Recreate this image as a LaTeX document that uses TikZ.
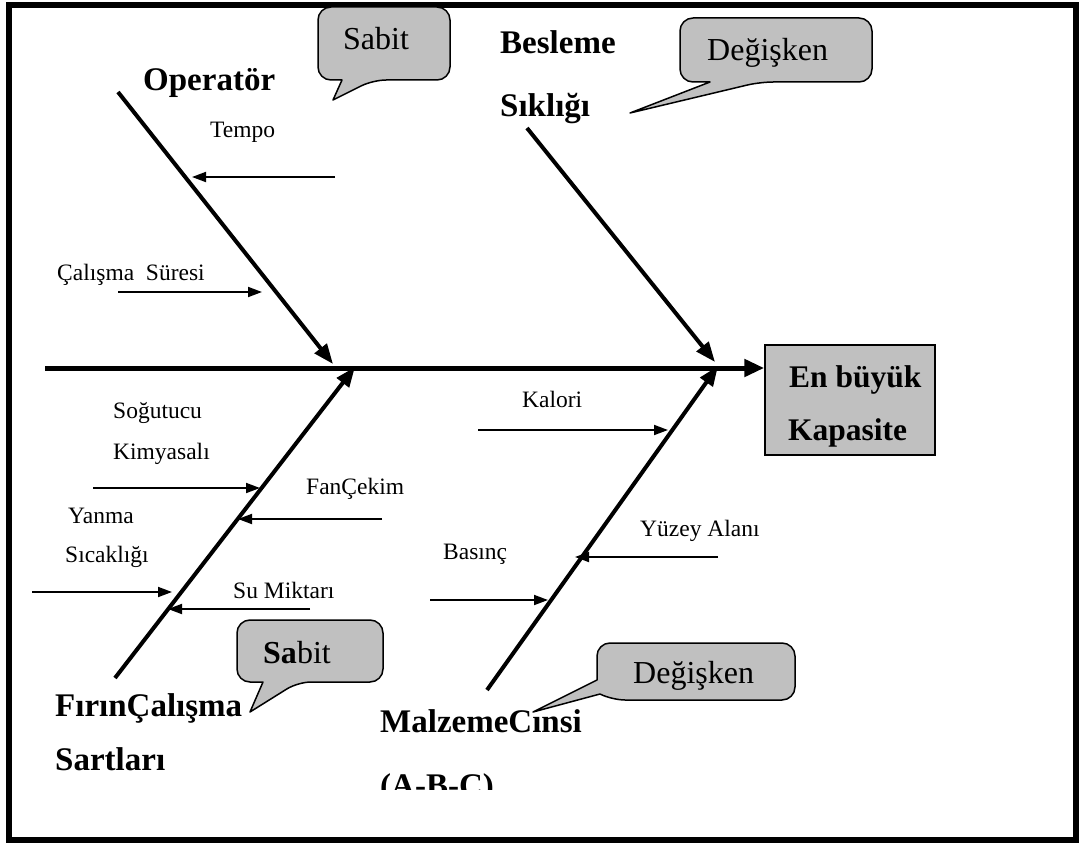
\documentclass[tikz,border=0pt]{standalone}
\usepackage{fontspec}
\setmainfont{Liberation Serif}
\usetikzlibrary{arrows.meta}
\definecolor{calloutgray}{RGB}{192,192,192}
\tikzset{
  bone/.style={line width=4pt, -{Triangle[length=20pt,width=15pt]}},
  spine/.style={line width=5pt, -{Triangle[length=20pt,width=17pt]}},
  cause/.style={line width=1.8pt, -{Triangle[length=14pt,width=10pt]}},
  small/.style={inner sep=0pt, anchor=base west, font=\fontsize{23.5}{28}\selectfont},
  big/.style={inner sep=0pt, anchor=base west, font=\fontsize{33}{38}\selectfont\bfseries},
  boxtext/.style={inner sep=0pt, anchor=base west, font=\fontsize{31.5}{36}\selectfont\bfseries},
  callout/.style={fill=calloutgray, draw=black, line width=1.5pt, line join=round},
  callouttext/.style={inner sep=0pt, anchor=base west, font=\fontsize{32}{38}\selectfont},
}
\begin{document}
\begin{tikzpicture}[x=1pt, y=-1pt]
\useasboundingbox (0,0) rectangle (1079,843);
% outer frame
\draw[line width=6pt] (9,5) rectangle (1076,840);

% effect box
\node[draw, fill=calloutgray, line width=1.5pt, minimum width=170pt, minimum height=110pt, inner sep=0pt] (effect) at (850,400) {};
\node[boxtext] (eff1) at (789,387) {En büyük};
\node[boxtext] (eff2) at (788,440) {Kapasite};

% spine
\coordinate (tail) at (45,368);
\draw[spine] (tail) -- (tail -| effect.west);

% main bones
\coordinate (opA) at (118,92);   \coordinate (opB) at (333,364);
\coordinate (bsA) at (527,128);  \coordinate (bsB) at (715,362);
\coordinate (frA) at (115,678);  \coordinate (frB) at (355,367);
\coordinate (mzA) at (487,690);  \coordinate (mzB) at (718,366);
\draw[bone] (opA) -- (opB);
\draw[bone] (bsA) -- (bsB);
\draw[bone] (frA) -- (frB);
\draw[bone] (mzA) -- (mzB);

% bone titles
\node[big] (operator) at (143,91) {Operatör};
\node[big] (besleme) at (500,54) {Besleme};
\node[big] (siklik) at (500,117) {Sıklığı};
\node[big] (firin1) at (55,716) {FırınÇalışma};
\node[big] (firin2) at (55,770) {Sartları};
\node[big] (malz1) at (380,732) {MalzemeCınsi};
\begin{scope}
\clip (300,745) rectangle (600,789);
\node[big] (malz2) at (380,796) {(A-B-C)};
\end{scope}

% sub-causes: Operatör
\coordinate (tempoS) at (335,177); \coordinate (tempoE) at (192,177);
\draw[cause] (tempoS) -- (tempoE);
\node[small] (tempo) at (210,137) {Tempo};
\coordinate (calS) at (118,292); \coordinate (calE) at (262,292);
\draw[cause] (calS) -- (calE);
\node[small] (calisma) at (57,280) {Çalışma\ \ Süresi};

% sub-causes: Fırın
\coordinate (sogS) at (93,488); \coordinate (sogE) at (260,488);
\draw[cause] (sogS) -- (sogE);
\node[small] (sog1) at (113,418) {Soğutucu};
\node[small] (sog2) at (113,459) {Kimyasalı};
\coordinate (fanS) at (382,519); \coordinate (fanE) at (238,519);
\draw[cause] (fanS) -- (fanE);
\node[small] (fan) at (306,494) {FanÇekim};
\coordinate (yanS) at (32,592); \coordinate (yanE) at (172,592);
\draw[cause] (yanS) -- (yanE);
\node[small] (yan1) at (68,523) {Yanma};
\node[small] (yan2) at (65,562) {Sıcaklığı};
\coordinate (suS) at (310,609); \coordinate (suE) at (168,609);
\draw[cause] (suS) -- (suE);
\node[small] (su) at (233,598) {Su Miktarı};

% sub-causes: Malzeme
\coordinate (kalS) at (478,430); \coordinate (kalE) at (668,430);
\draw[cause] (kalS) -- (kalE);
\node[small] (kalori) at (522,407) {Kalori};
\coordinate (basS) at (430,600); \coordinate (basE) at (548,600);
\draw[cause] (basS) -- (basE);
\node[small] (basinc) at (443,559) {Basınç};
\coordinate (yuzS) at (718,557); \coordinate (yuzE) at (575,557);
\draw[cause] (yuzS) -- (yuzE);
\node[small] (yuzey) at (640,536) {Yüzey Alanı};

% callouts
\draw[callout] (318,40) [rounded corners=13pt] -- (318,7) -- (450,7) -- (450,80) -- (373,80) [sharp corners] -- (333,100) -- (342,80) [rounded corners=13pt] -- (318,80) -- cycle;
\node[callouttext] (c1) at (343,49) {Sabit};

\draw[callout] (680,50) [rounded corners=13pt] -- (680,18) -- (872,18) -- (872,82) -- (760,82) [sharp corners] -- (630,113) -- (710,82) [rounded corners=13pt] -- (680,82) -- cycle;
\node[callouttext] (c2) at (707,60) {Değişken};

\draw[callout] (237,650) [rounded corners=13pt] -- (237,620) -- (383,620) -- (383,682) -- (298,682) [sharp corners] -- (250,712) -- (263,682) [rounded corners=13pt] -- (237,682) -- cycle;
\node[callouttext] (c3) at (263,663) {\textbf{Sa}bit};

\draw[callout] (597,680) [rounded corners=13pt] -- (597,643) -- (795,643) -- (795,700) -- (612,700) [sharp corners] -- (600,694) -- (533,712) -- cycle;
\node[callouttext] (c4) at (633,683) {Değişken};
\end{tikzpicture}
\end{document}
